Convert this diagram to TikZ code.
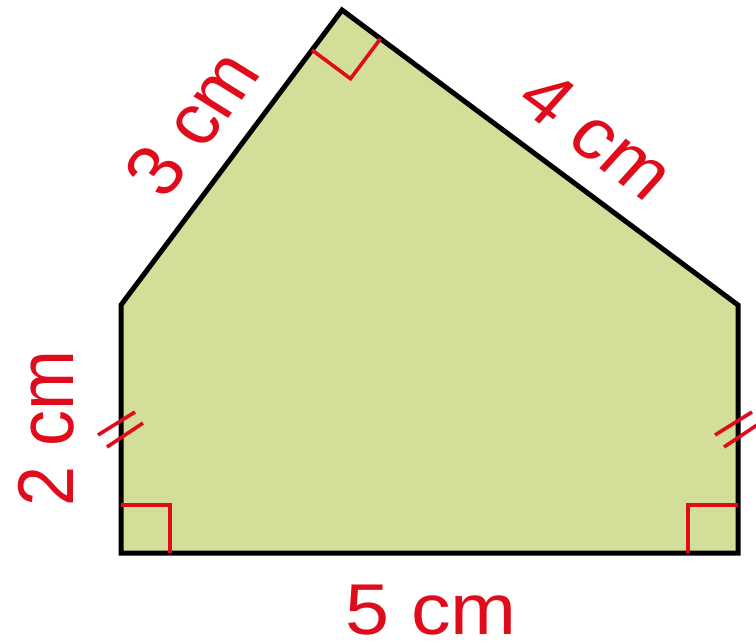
\documentclass[tikz,border=0pt]{standalone}
\usepackage{fontspec}
\setmainfont{Liberation Sans}
\usetikzlibrary{calc}
\definecolor{shapefill}{RGB}{211,222,153}
\definecolor{markred}{RGB}{224,12,28}
\tikzset{
  edgeline/.style={draw=black, line width=5pt, line join=miter, fill=shapefill},
  redmark/.style={draw=markred, line width=3.6pt},
  lbl/.style={text=markred, inner sep=0pt, font=\fontsize{72}{80}\selectfont, transform shape}
}
\begin{document}
\begin{tikzpicture}[x=1pt,y=-1pt]
\useasboundingbox (0,0) rectangle (756,643);
\coordinate (BL) at (121,553);
\coordinate (BR) at (738,553);
\coordinate (TR) at (738,305);
\coordinate (AP) at (342,10);
\coordinate (TL) at (121,305);
\path[edgeline] (BL) -- (BR) -- (TR) -- (AP) -- (TL) -- cycle;
% right angle markers
\draw[redmark, line join=miter] ($(BL)+(0,-48)$) -- ($(BL)+(49,-48)$) -- ($(BL)+(49,0)$);
\draw[redmark, line join=miter] ($(BR)+(-50,0)$) -- ($(BR)+(-50,-48)$) -- ($(BR)+(0,-48)$);
\coordinate (A1) at ($(AP)!50pt!(TL)$);
\coordinate (A2) at ($(AP)!48pt!(TR)$);
\draw[redmark, line join=miter] (A1) -- ($(A1)+(A2)-(AP)$) -- (A2);
% equal-length ticks
\coordinate (L) at (121,429);
\coordinate (R) at (738,429);
\draw[redmark] ($(L)+(-23,6)$) -- ($(L)+(14,-17)$);
\draw[redmark] ($(L)+(-14,18)$) -- ($(L)+(22,-6)$);
\draw[redmark] ($(R)+(-23,6)$) -- ($(R)+(14,-17)$);
\draw[redmark] ($(R)+(-14,18)$) -- ($(R)+(22,-6)$);
% labels
\begin{scope}[xscale=1.1]
\node[lbl, rotate=55.6] (l3) at (174.5,123) {3 cm};
\node[lbl, rotate=-39.3] (l4) at (542.7,135) {4 cm};
\node[lbl, rotate=90] (l2) at (41.8,428) {2 cm};
\node[lbl] (l5) at (391.8,610) {5 cm};
\end{scope}
\end{tikzpicture}
\end{document}
